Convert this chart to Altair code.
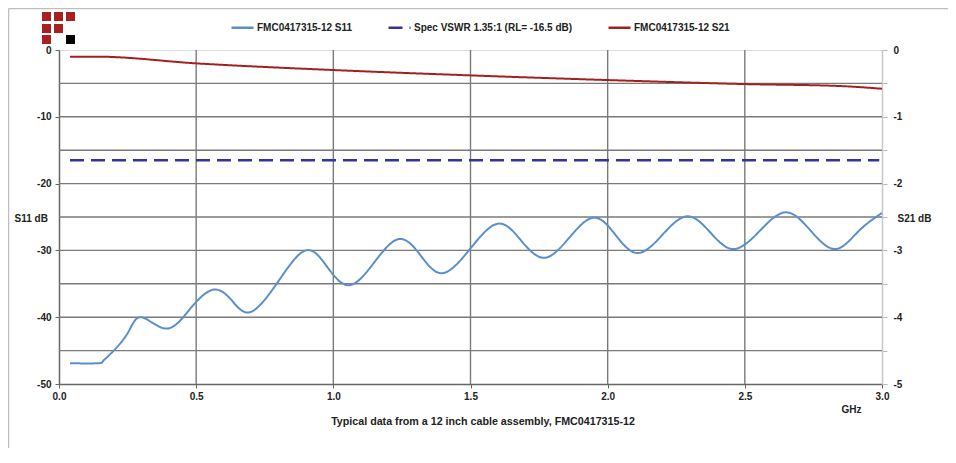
import altair as alt
import pandas as pd

# ---- data ----
s11_freq = [0.04, 0.14, 0.16, 0.19, 0.25, 0.30, 0.39, 0.475, 0.56, 0.63, 0.70, 0.80, 0.90, 0.98,
            1.06, 1.15, 1.24, 1.32, 1.40, 1.50, 1.60, 1.685, 1.77, 1.86, 1.95, 2.03, 2.11,
            2.20, 2.29, 2.375, 2.46, 2.555, 2.65, 2.74, 2.83, 2.915, 3.00]
s11_db = [-46.9, -46.9, -46.6, -45.4, -42.4, -40.0, -41.7, -38.9, -35.9, -37.5, -39.2, -34.6, -30.0, -32.6,
          -35.2, -31.75, -28.3, -30.85, -33.4, -29.7, -26.0, -28.55, -31.1, -28.1, -25.1, -27.75, -30.4,
          -27.65, -24.9, -27.35, -29.8, -27.05, -24.3, -27.05, -29.8, -27.1, -24.4]

s21_freq = [0.04, 0.14, 0.5, 1.0, 1.5, 2.0, 2.5, 2.85, 3.0]
s21_db = [-0.10, -0.10, -0.20, -0.30, -0.38, -0.45, -0.51, -0.54, -0.58]

spec_freq = [0.04, 2.99]
spec_db = [-16.5, -16.5]

series_names = ["FMC0417315-12 S11", "Spec VSWR 1.35:1 (RL= -16.5 dB)", "FMC0417315-12 S21"]
series_colors = ["#5b8fcb", "#33339f", "#a3201f"]
series_dash = [[1, 0], [14, 7], [1, 0]]

x_ticks = [0.0, 0.5, 1.0, 1.5, 2.0, 2.5, 3.0]
x_grid = [0.5, 1.0, 1.5, 2.0, 2.5]
y_left_ticks = [-50, -40, -30, -20, -10, 0]
y_left_grid = [-5, -10, -15, -20, -25, -30, -35, -40, -45]
y_right_ticks = [-5, -4.5, -4, -3.5, -3, -2.5, -2, -1.5, -1, -0.5, 0]

footer_text = "Typical data from a 12 inch cable assembly, FMC0417315-12"

logo_x = [-12.5, -0.5, 11.5, -12.5, -0.5, -12.5, 11.5]
logo_y = [-33.5, -33.5, -33.5, -21.5, -21.5, -10.5, -10.5]
logo_c = ["#a8201f"] * 6 + ["#000000"]

FONT = "Liberation Sans"
W, H = 823, 334

df_s11 = pd.DataFrame({"f": s11_freq, "v": s11_db, "series": series_names[0]})
df_spec = pd.DataFrame({"f": spec_freq, "v": spec_db, "series": series_names[1]})
df_s21 = pd.DataFrame({"f": s21_freq, "v": s21_db, "series": series_names[2]})

xscale = alt.Scale(domain=[0, 3], nice=False, zero=False)
yl_scale = alt.Scale(domain=[-50, 0], nice=False)
yr_scale = alt.Scale(domain=[-5, 0], nice=False)

legend = alt.Legend(title=None, orient="none", legendX=171, legendY=-35,
                    direction="horizontal", columns=3, symbolType="stroke",
                    symbolSize=484, symbolStrokeWidth=2.5, labelFont=FONT,
                    labelFontSize=10, labelFontWeight="bold", labelColor="#222",
                    labelOffset=2, columnPadding=30, padding=0)
color = alt.Color("series:N", scale=alt.Scale(domain=series_names, range=series_colors), legend=legend)
dash = alt.StrokeDash("series:N", scale=alt.Scale(domain=series_names, range=series_dash), legend=legend)

x_axis = alt.Axis(values=x_ticks, format=".1f", grid=False, labelFont=FONT, labelFontSize=10,
                  labelFontWeight="bold", labelColor="#222", tickSize=4, tickColor="#666",
                  domainColor="#666", domainWidth=1.5, labelPadding=3, labelFlush=False,
                  title="GHz", titleFont=FONT, titleFontSize=10, titleFontWeight="bold",
                  titleColor="#222", titleX=792, titleY=20, titleAlign="center",
                  titleBaseline="top")
yl_axis = alt.Axis(values=y_left_ticks, grid=False, labelFont=FONT, labelFontSize=10,
                   labelFontWeight="bold", labelColor="#222", tickSize=4, tickColor="#666",
                   domainColor="#666", domainWidth=1.5, labelPadding=4,
                   labelExpr="datum.value + ''",
                   title="S11 dB", titleFont=FONT, titleFontSize=10, titleFontWeight="bold",
                   titleColor="#222", titleAngle=0, titleX=-45, titleY=168, titleAlign="left",
                   titleBaseline="middle")
yr_axis = alt.Axis(values=y_right_ticks, orient="right", grid=False, labelFont=FONT,
                   labelFontSize=10, labelFontWeight="bold", labelColor="#222", tickSize=5,
                   tickColor="#bbb", domainColor="#c8c8c8", domainWidth=1.5, labelPadding=6,
                   labelExpr="datum.value % 1 == 0 ? datum.value + '' : ''",
                   title="S21 dB", titleFont=FONT, titleFontSize=10, titleFontWeight="bold",
                   titleColor="#222", titleAngle=0, titleX=15, titleY=168, titleAlign="left",
                   titleBaseline="middle")

hgrid = alt.Chart(pd.DataFrame({"g": y_left_grid})).mark_rule(color="#7a7a7a", strokeWidth=1.4).encode(
    y=alt.Y("g:Q", scale=yl_scale, axis=yl_axis))
vgrid = alt.Chart(pd.DataFrame({"g": x_grid})).mark_rule(color="#7a7a7a", strokeWidth=1.4).encode(
    x=alt.X("g:Q", scale=xscale, axis=x_axis))

s11_line = alt.Chart(df_s11).mark_line(strokeWidth=2, interpolate="natural").encode(
    x=alt.X("f:Q", scale=xscale, axis=x_axis),
    y=alt.Y("v:Q", scale=yl_scale, axis=yl_axis),
    color=color, strokeDash=dash)
spec_line = alt.Chart(df_spec).mark_line(strokeWidth=2.5).encode(
    x=alt.X("f:Q", scale=xscale, axis=x_axis),
    y=alt.Y("v:Q", scale=yl_scale, axis=yl_axis),
    color=color, strokeDash=dash)
left = alt.layer(hgrid, vgrid, spec_line, s11_line)

s21_line = alt.Chart(df_s21).mark_line(strokeWidth=2, interpolate="monotone").encode(
    x=alt.X("f:Q", scale=xscale, axis=x_axis),
    y=alt.Y("v:Q", scale=yr_scale, axis=yr_axis),
    color=color, strokeDash=dash)

one = pd.DataFrame({"a": [0]})
frame_top = alt.Chart(one).mark_rule(color="#bdbdbd", strokeWidth=1.5).encode(
    x=alt.value(-50.5), x2=alt.value(891), y=alt.value(-41.5))
frame_left = alt.Chart(one).mark_rule(color="#bdbdbd", strokeWidth=1.5).encode(
    x=alt.value(-50.5), y=alt.value(-41.5), y2=alt.value(420))
footer = alt.Chart(one).mark_text(font=FONT, fontSize=10.7, fontWeight="bold", color="#222",
                                  align="center", baseline="middle").encode(
    x=alt.value(424), y=alt.value(372), text=alt.value(footer_text))
logo = [alt.Chart(one).mark_square(size=81, opacity=1, color=c).encode(
    x=alt.value(lx), y=alt.value(ly)) for lx, ly, c in zip(logo_x, logo_y, logo_c)]

chart = alt.layer(left, s21_line, frame_top, frame_left, footer, *logo).resolve_scale(
    y="independent"
).properties(
    width=W, height=H,
    autosize=alt.AutoSizeParams(type="none"),
    padding={"left": 51, "top": 42, "right": 66, "bottom": 64},
).configure_view(stroke=None).configure(background="white")

chart.save("out.html", embed_options={"renderer": "svg", "actions": False})
